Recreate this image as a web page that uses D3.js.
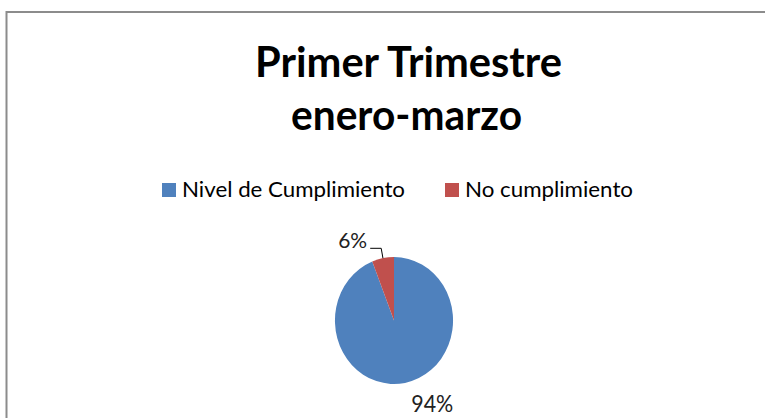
<!DOCTYPE html>
<html>
<head>
<meta charset="utf-8">
<script src="https://cdn.jsdelivr.net/npm/d3@7"></script>
<style>
  body { margin: 0; background: #fff; }
  text { font-family: Lato, "Open Sans", sans-serif; fill: #000; }
</style>
</head>
<body>
<div id="chart"></div>
<script>
// chart data
var categories = ["Nivel de Cumplimiento", "No cumplimiento"];
var values = [94, 6];
var labels = ["94%", "6%"];
var colors = ["#4F81BD", "#C0504D"];
var titleLines = ["Primer Trimestre", "enero-marzo"];

var svgWidth = 765;
var svgHeight = 418;

var svg = d3.select("#chart")
  .append("svg")
  .attr("width", svgWidth)
  .attr("height", svgHeight);

// chart frame (only top and left visible in the crop)
svg.append("rect")
  .attr("x", 6.5)
  .attr("y", 12)
  .attr("width", 900)
  .attr("height", 600)
  .attr("fill", "#fff")
  .attr("stroke", "#8c8c8c")
  .attr("stroke-width", 2);

// title
var titlePos = [{x: 255, y: 77, len: 307}, {x: 291, y: 130, len: 231}];
svg.selectAll(".title")
  .data(titleLines)
  .enter()
  .append("text")
  .classed("title", true)
  .attr("x", (d, i) => titlePos[i].x)
  .attr("y", (d, i) => titlePos[i].y)
  .attr("textLength", (d, i) => titlePos[i].len)
  .attr("lengthAdjust", "spacingAndGlyphs")
  .style("font-size", "42px")
  .style("font-weight", "bold")
  .text(d => d);

// legend
var legendPos = [{x: 162, len: 223}, {x: 445, len: 168}];
var legend = svg.selectAll(".legend")
  .data(categories)
  .enter()
  .append("g")
  .classed("legend", true)
  .attr("transform", (d, i) => `translate(${legendPos[i].x}, 183)`);

legend.append("rect")
  .attr("width", 14)
  .attr("height", 14)
  .attr("fill", (d, i) => colors[i]);

legend.append("text")
  .attr("x", 20)
  .attr("y", 14)
  .attr("textLength", (d, i) => legendPos[i].len)
  .attr("lengthAdjust", "spacingAndGlyphs")
  .style("font-size", "21px")
  .text(d => d);

// pie
var cx = 394, cy = 320.5;
var radius = 63.5;
var sx = 0.93; // picture is slightly squeezed horizontally

var pie = d3.pie().sort(null).value(d => d);
var arcs = pie(values);

var arc = d3.arc().innerRadius(0).outerRadius(radius);

var pieGroup = svg.append("g")
  .attr("transform", `translate(${cx}, ${cy}) scale(${sx}, 1)`);

pieGroup.selectAll("path")
  .data(arcs)
  .enter()
  .append("path")
  .attr("d", arc)
  .attr("fill", (d, i) => colors[i]);

// helper: point at radius r on the middle angle of a slice (in page coords)
function midPoint(d, r) {
  var a = (d.startAngle + d.endAngle) / 2;
  return [cx + sx * r * Math.sin(a), cy - r * Math.cos(a)];
}

// big slice label, outside end
var p0 = midPoint(arcs[0], radius + 7);
svg.append("text")
  .attr("x", p0[0] + 5)
  .attr("y", p0[1] + 22)
  .attr("textLength", 42)
  .attr("lengthAdjust", "spacingAndGlyphs")
  .style("font-size", "24px")
  .style("fill", "#222")
  .text(labels[0]);

// small slice label with leader line
var q1 = midPoint(arcs[1], radius);
var q2 = midPoint(arcs[1], radius + 10);
var q3 = [q2[0] - 11, q2[1]];

svg.append("polyline")
  .attr("points", [q1, q2, q3].map(p => p.join(",")).join(" "))
  .attr("fill", "none")
  .attr("stroke", "#000")
  .attr("stroke-width", 1);

svg.append("text")
  .attr("x", q3[0] - 3)
  .attr("y", q3[1])
  .attr("text-anchor", "end")
  .attr("textLength", 29)
  .attr("lengthAdjust", "spacingAndGlyphs")
  .style("font-size", "22px")
  .style("fill", "#222")
  .text(labels[1]);
</script>
</body>
</html>
